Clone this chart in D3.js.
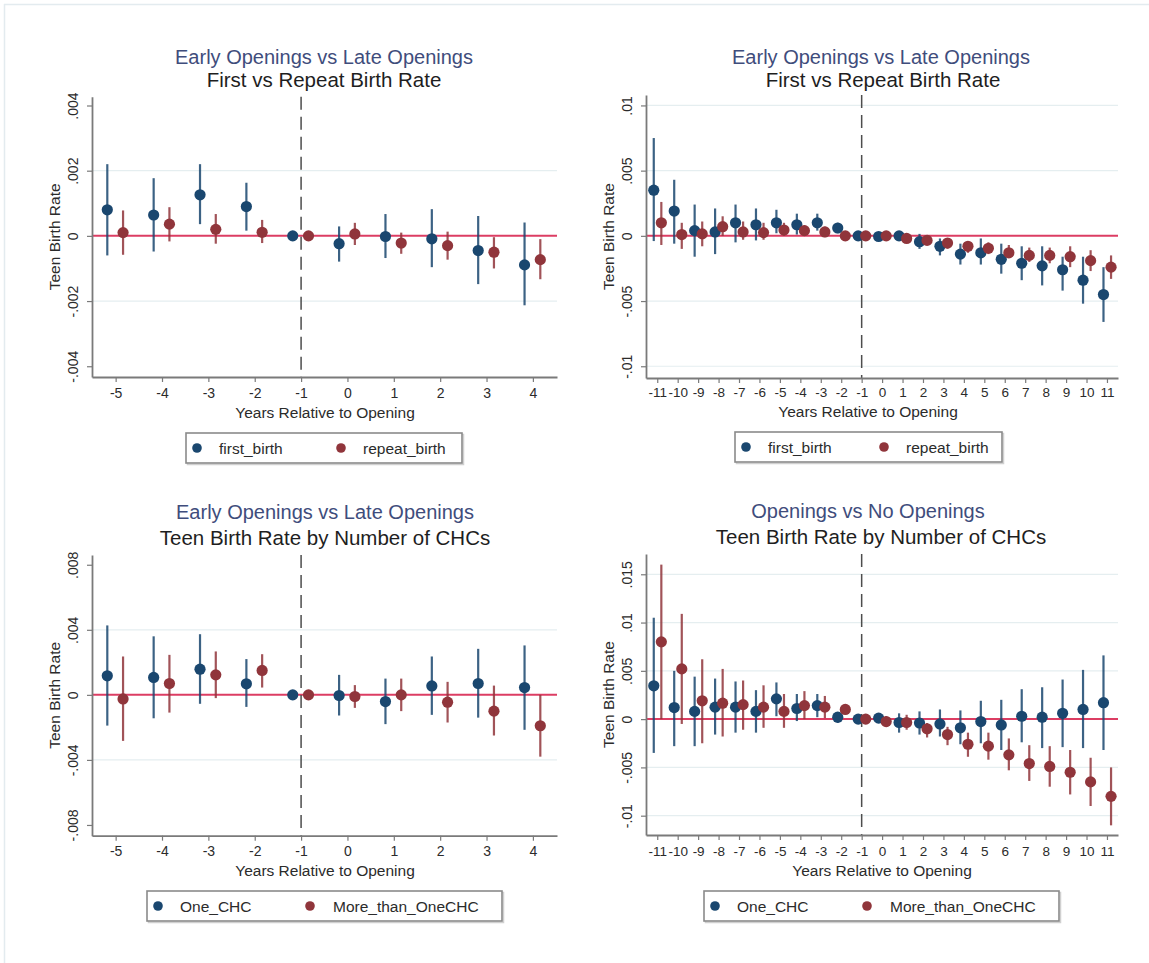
<!DOCTYPE html>
<html>
<head>
<meta charset="utf-8">
<script src="https://cdn.jsdelivr.net/npm/d3@7"></script>
<style>
  html, body { margin: 0; padding: 0; background: #fff; }
  svg { display: block; font-family: "Liberation Sans", Arial, Helvetica, sans-serif; }
</style>
</head>
<body>
<svg id="chart" width="1149" height="963"></svg>
<script>
// ---- Event-study estimates: point estimate with 95% CI bounds ----
const shortYears = [-5, -4, -3, -2, -1, 0, 1, 2, 3, 4];
const longYears = [-11, -10, -9, -8, -7, -6, -5, -4, -3, -2, -1, 0, 1, 2, 3, 4, 5, 6, 7, 8, 9, 10, 11];

// Panel A: early vs late openings, first vs repeat births
const firstBirthA = [0.0008, 0.00064, 0.00126, 0.0009, 0, -0.00024, -0.00002, -0.00009, -0.00045, -0.00089];
const firstBirthAHi = [0.0022, 0.00177, 0.0022, 0.00163, 0, 0.00029, 0.00067, 0.00082, 0.00061, 0.00041];
const firstBirthALo = [-0.0006, -0.00048, 0.00036, 0.00016, 0, -0.00079, -0.00068, -0.00096, -0.00148, -0.00213];
const repeatBirthA = [0.0001, 0.00036, 0.0002, 0.00011, 0, 0.00006, -0.00022, -0.0003, -0.0005, -0.00073];
const repeatBirthAHi = [0.00078, 0.00088, 0.00067, 0.00049, 0, 0.0004, 0.0001, 0.00013, -0.00004, -0.0001];
const repeatBirthALo = [-0.00058, -0.00017, -0.00024, -0.00022, 0, -0.00028, -0.00055, -0.00073, -0.001, -0.00133];

// Panel B: longer window, first vs repeat births
const firstBirthB = [0.0035, 0.0019, 0.0004, 0.0003, 0.001, 0.00085, 0.001, 0.00085, 0.001, 0.0006, 0, -0.00005, 0, -0.00045, -0.0008, -0.0014, -0.0013, -0.0018, -0.0021, -0.0023, -0.0026, -0.0034, -0.0045];
const firstBirthBHi = [0.0075, 0.0043, 0.0024, 0.0021, 0.0024, 0.0021, 0.002, 0.0017, 0.0017, 0.001, 0, 0.0001, 0.0002, 0.00015, -0.0002, -0.0006, -0.0002, -0.0006, -0.0008, -0.0008, -0.0016, -0.0016, -0.0024];
const firstBirthBLo = [-0.0004, -0.0006, -0.0016, -0.0014, -0.0005, -0.00035, 0.0002, 0.0001, 0.0004, 0.0002, 0, -0.0002, -0.0002, -0.001, -0.0015, -0.0022, -0.0022, -0.0029, -0.0034, -0.0038, -0.0042, -0.0052, -0.0066];
const repeatBirthB = [0.001, 0.0001, 0.00015, 0.0007, 0.0003, 0.00025, 0.00045, 0.0004, 0.0003, 0, 0, 0, -0.0002, -0.00035, -0.00055, -0.0008, -0.00095, -0.0013, -0.0015, -0.0015, -0.0016, -0.0019, -0.0024];
const repeatBirthBHi = [0.0026, 0.001, 0.0011, 0.0015, 0.0011, 0.001, 0.001, 0.0008, 0.0007, 0.0001, 0, 0.0001, 0, -0.0001, -0.0002, -0.0004, -0.0005, -0.0007, -0.0009, -0.0009, -0.0008, -0.0011, -0.0015];
const repeatBirthBLo = [-0.0007, -0.001, -0.0008, 0, -0.0003, -0.0003, 0, 0, -0.0001, -0.0001, 0, -0.0001, -0.0004, -0.0006, -0.001, -0.0013, -0.0014, -0.0017, -0.002, -0.0021, -0.0024, -0.0027, -0.0033];

// Panel C: early vs late openings, by number of CHCs
const oneChcC = [0.00117, 0.00107, 0.00158, 0.00068, 0, -0.00004, -0.00041, 0.00055, 0.0007, 0.00045];
const oneChcCHi = [0.00427, 0.0036, 0.00373, 0.0022, 0, 0.00123, 0.001, 0.00236, 0.00283, 0.00304];
const oneChcCLo = [-0.00189, -0.00144, -0.00055, -0.00074, 0, -0.00127, -0.0018, -0.00123, -0.0014, -0.00215];
const multiChcC = [-0.00025, 0.0007, 0.00123, 0.0015, 0, -0.0001, 0, -0.00045, -0.001, -0.0019];
const multiChcCHi = [0.00236, 0.00246, 0.00267, 0.0025, 0, 0.0006, 0.001, 0.0008, 0.00057, 0];
const multiChcCLo = [-0.00283, -0.00109, -0.0002, 0.00045, 0, -0.0008, -0.001, -0.0017, -0.0025, -0.0038];

// Panel D: openings vs no openings, by number of CHCs
const oneChcD = [0.00345, 0.0012, 0.0008, 0.00124, 0.00124, 0.0008, 0.0021, 0.0011, 0.0014, 0.0002, 0, 0.0001, -0.00035, -0.0004, -0.0005, -0.0009, -0.00025, -0.0006, 0.0003, 0.0002, 0.0006, 0.001, 0.0017];
const oneChcDHi = [0.0105, 0.005, 0.0044, 0.0042, 0.0039, 0.003, 0.0038, 0.0026, 0.0026, 0.0005, 0, 0.0006, 0.0006, 0.0008, 0.001, 0.0009, 0.0019, 0.002, 0.0031, 0.0033, 0.0041, 0.0051, 0.0066];
const oneChcDLo = [-0.0035, -0.0028, -0.0028, -0.0016, -0.0014, -0.0014, 0.0003, -0.0002, 0.0002, -0.0004, 0, -0.0004, -0.0014, -0.0016, -0.0018, -0.0026, -0.0025, -0.0032, -0.0024, -0.003, -0.0029, -0.003, -0.0032];
const multiChcD = [0.008, 0.0052, 0.0019, 0.00165, 0.0015, 0.00124, 0.0008, 0.0014, 0.00124, 0.001, 0, -0.00025, -0.00035, -0.001, -0.0016, -0.0026, -0.0028, -0.0037, -0.0046, -0.0049, -0.0055, -0.0065, -0.008];
const multiChcDHi = [0.016, 0.0109, 0.0062, 0.0052, 0.004, 0.0035, 0.0026, 0.0029, 0.0024, 0.0015, 0, 0.0003, 0.00045, -0.0004, -0.0008, -0.0014, -0.0014, -0.002, -0.0027, -0.0028, -0.0032, -0.004, -0.005];
const multiChcDLo = [0, -0.0005, -0.0025, -0.0018, -0.0011, -0.0009, -0.0009, 0, 0.0001, 0.0005, 0, -0.0008, -0.0011, -0.0019, -0.0027, -0.0039, -0.0042, -0.0053, -0.0064, -0.007, -0.0078, -0.009, -0.011];

// Y-axis ticks and their printed labels
const yTicksA = [-0.004, -0.002, 0, 0.002, 0.004];
const yLabelsA = ["-.004", "-.002", "0", ".002", ".004"];
const yTicksB = [-0.01, -0.005, 0, 0.005, 0.01];
const yLabelsB = ["-.01", "-.005", "0", ".005", ".01"];
const yTicksC = [-0.008, -0.004, 0, 0.004, 0.008];
const yLabelsC = ["-.008", "-.004", "0", ".004", ".008"];
const yTicksD = [-0.01, -0.005, 0, 0.005, 0.01, 0.015];
const yLabelsD = ["-.01", "-.005", "0", ".005", ".01", ".015"];

const titleTopA = "Early Openings vs Late Openings";
const titleTopD = "Openings vs No Openings";
const subtitleBirth = "First vs Repeat Birth Rate";
const subtitleChc = "Teen Birth Rate by Number of CHCs";
const xTitle = "Years Relative to Opening";
const yTitle = "Teen Birth Rate";
const seriesNamesBirth = ["first_birth", "repeat_birth"];
const seriesNamesChc = ["One_CHC", "More_than_OneCHC"];

// ---- styling ----
const NAVY = "#1a476f";
const MAROON = "#90353b";
const ZERO_LINE = "#dc3d63";
const TITLE_BLUE = "#3f4d7c";
const TEXT = "#2b2b2b";
const AXIS = "#7a7a7a";
const GRID = "#e5eef0";

const svg = d3.select("#chart");

// faint frame along the top and left edges
svg.append("line").attr("x1", 4).attr("x2", 1149).attr("y1", 4.5).attr("y2", 4.5)
  .attr("stroke", "#e3ebef").attr("stroke-width", 1.5);
svg.append("line").attr("x1", 4.5).attr("x2", 4.5).attr("y1", 4).attr("y2", 963)
  .attr("stroke", "#e3ebef").attr("stroke-width", 1.5);

function seriesRows(years, est, lo, hi) {
  return years.map((yr, i) => ({ yr, est: est[i], lo: lo[i], hi: hi[i] }));
}

const panels = [
  {
    years: shortYears, xDomain: [-5.51, 4.52], yDomain: [-0.00433, 0.00427],
    yTicks: yTicksA, yLabels: yLabelsA, gridTicks: [-0.002, 0.002],
    top: titleTopA, sub: subtitleBirth, names: seriesNamesBirth,
    series: [seriesRows(shortYears, firstBirthA, firstBirthALo, firstBirthAHi),
             seriesRows(shortYears, repeatBirthA, repeatBirthALo, repeatBirthAHi)],
    offs: [-0.18, 0.16], xTickSize: 14,
    box: { x0: 92, x1: 557, y0: 96.7, y1: 377 },
    t1: { cx: 324, y: 64 }, t2: { cx: 324, y: 87 },
    yLabX: 60, yTickX: 78, xTickY: 398, xTitleY: 418, xTitleCx: 325,
    leg: { x: 186, y: 433, w: 276, h: 30, d1: 11, l1: 33, d2: 155, l2: 177 }
  },
  {
    years: longYears, xDomain: [-11.55, 11.54], yDomain: [-0.0109, 0.0108],
    yTicks: yTicksB, yLabels: yLabelsB, gridTicks: [-0.01, -0.005, 0.005, 0.01],
    top: titleTopA, sub: subtitleBirth, names: seriesNamesBirth,
    series: [seriesRows(longYears, firstBirthB, firstBirthBLo, firstBirthBHi),
             seriesRows(longYears, repeatBirthB, repeatBirthBLo, repeatBirthBHi)],
    offs: [-0.17, 0.2], xTickSize: 13.5,
    box: { x0: 646, x1: 1118, y0: 95, y1: 378 },
    t1: { cx: 881, y: 64 }, t2: { cx: 883, y: 87 },
    yLabX: 614, yTickX: 632, xTickY: 397, xTitleY: 417, xTitleCx: 868,
    leg: { x: 735, y: 432, w: 267, h: 30, d1: 11, l1: 33, d2: 149, l2: 171 }
  },
  {
    years: shortYears, xDomain: [-5.51, 4.52], yDomain: [-0.00866, 0.0086],
    yTicks: yTicksC, yLabels: yLabelsC, gridTicks: [-0.004, 0.004],
    top: titleTopA, sub: subtitleChc, names: seriesNamesChc,
    series: [seriesRows(shortYears, oneChcC, oneChcCLo, oneChcCHi),
             seriesRows(shortYears, multiChcC, multiChcCLo, multiChcCHi)],
    offs: [-0.18, 0.16], xTickSize: 14,
    box: { x0: 92, x1: 557, y0: 555, y1: 835.7 },
    t1: { cx: 325, y: 519 }, t2: { cx: 325, y: 545 },
    yLabX: 60, yTickX: 78, xTickY: 856, xTitleY: 876, xTitleCx: 325,
    leg: { x: 147, y: 891, w: 355, h: 30, d1: 11, l1: 33, d2: 163, l2: 186 }
  },
  {
    years: longYears, xDomain: [-11.55, 11.54], yDomain: [-0.012, 0.0171],
    yTicks: yTicksD, yLabels: yLabelsD, gridTicks: [-0.01, -0.005, 0.005, 0.01, 0.015],
    top: titleTopD, sub: subtitleChc, names: seriesNamesChc,
    series: [seriesRows(longYears, oneChcD, oneChcDLo, oneChcDHi),
             seriesRows(longYears, multiChcD, multiChcDLo, multiChcDHi)],
    offs: [-0.17, 0.2], xTickSize: 13.5,
    box: { x0: 646, x1: 1118, y0: 554, y1: 835 },
    t1: { cx: 868, y: 518 }, t2: { cx: 881, y: 544 },
    yLabX: 614, yTickX: 632, xTickY: 856, xTitleY: 876, xTitleCx: 882,
    leg: { x: 704, y: 891, w: 355, h: 30, d1: 11, l1: 33, d2: 163, l2: 186 }
  }
];

const colors = [NAVY, MAROON];

panels.forEach(p => {
  const b = p.box;
  const x = d3.scaleLinear().domain(p.xDomain).range([b.x0, b.x1]);
  const y = d3.scaleLinear().domain(p.yDomain).range([b.y1, b.y0]);
  const g = svg.append("g");

  // titles
  g.append("text").attr("x", p.t1.cx).attr("y", p.t1.y).attr("text-anchor", "middle")
    .attr("font-size", 20).attr("fill", TITLE_BLUE).text(p.top);
  g.append("text").attr("x", p.t2.cx).attr("y", p.t2.y).attr("text-anchor", "middle")
    .attr("font-size", 20.5).attr("fill", "#1e1e1e").text(p.sub);

  // horizontal gridlines
  g.append("g").selectAll("line").data(p.gridTicks).join("line")
    .attr("x1", b.x0).attr("x2", b.x1)
    .attr("y1", d => y(d)).attr("y2", d => y(d))
    .attr("stroke", GRID).attr("stroke-width", 1.2);

  // zero reference line
  g.append("line").attr("x1", b.x0).attr("x2", b.x1)
    .attr("y1", y(0)).attr("y2", y(0))
    .attr("stroke", ZERO_LINE).attr("stroke-width", 2);

  // dashed line at the reference year
  g.append("line").attr("x1", x(-1)).attr("x2", x(-1))
    .attr("y1", b.y0).attr("y2", b.y1)
    .attr("stroke", "#4d4d4d").attr("stroke-width", 1.5)
    .attr("stroke-dasharray", "13,7");

  // y axis
  const yAxis = d3.axisLeft(y).tickValues(p.yTicks)
    .tickFormat((d, i) => p.yLabels[i]).tickSize(5).tickSizeOuter(0);
  const ya = g.append("g").attr("transform", `translate(${b.x0},0)`).call(yAxis);
  ya.select(".domain").attr("stroke", AXIS).attr("stroke-width", 1.8);
  ya.selectAll(".tick line").attr("stroke", AXIS).attr("stroke-width", 1.2);
  ya.selectAll(".tick text")
    .attr("transform", "rotate(-90)")
    .attr("x", 0).attr("y", p.yTickX - b.x0).attr("dy", 0)
    .attr("text-anchor", "middle")
    .attr("font-size", 14).attr("fill", TEXT)
    .attr("font-family", "Liberation Sans, Arial, sans-serif");

  // x axis (plain hyphen-minus for negative years)
  const xAxis = d3.axisBottom(x).tickValues(p.years)
    .tickFormat(d => String(d)).tickSize(5).tickSizeOuter(0);
  const xa = g.append("g").attr("transform", `translate(0,${b.y1})`).call(xAxis);
  xa.select(".domain").attr("stroke", AXIS).attr("stroke-width", 1.8);
  xa.selectAll(".tick line").attr("stroke", AXIS).attr("stroke-width", 1.2);
  xa.selectAll(".tick text")
    .attr("y", p.xTickY - b.y1).attr("dy", 0)
    .attr("font-size", p.xTickSize).attr("fill", TEXT)
    .attr("font-family", "Liberation Sans, Arial, sans-serif");

  // axis titles
  g.append("text").attr("x", p.xTitleCx).attr("y", p.xTitleY).attr("text-anchor", "middle")
    .attr("font-size", 15.5).attr("fill", TEXT).text(xTitle);
  g.append("text")
    .attr("transform", `translate(${p.yLabX},${(b.y0 + b.y1) / 2}) rotate(-90)`)
    .attr("text-anchor", "middle").attr("font-size", 15.5).attr("fill", TEXT).text(yTitle);

  // confidence intervals and point estimates
  p.series.forEach((rows, si) => {
    const off = p.offs[si];
    const col = colors[si];
    const sg = g.append("g");
    sg.selectAll("line").data(rows).join("line")
      .attr("x1", d => x(d.yr + off)).attr("x2", d => x(d.yr + off))
      .attr("y1", d => y(d.hi)).attr("y2", d => y(d.lo))
      .attr("stroke", col).attr("stroke-width", 2.2).attr("stroke-opacity", 0.85);
    sg.selectAll("circle").data(rows).join("circle")
      .attr("cx", d => x(d.yr + off)).attr("cy", d => y(d.est))
      .attr("r", 5.6).attr("fill", col);
  });

  // legend
  const L = p.leg;
  const lg = g.append("g");
  lg.append("rect").attr("x", L.x + 1.5).attr("y", L.y + 1.5).attr("width", L.w).attr("height", L.h)
    .attr("fill", "none").attr("stroke", "#d0d0d0").attr("stroke-width", 1.5);
  lg.append("rect").attr("x", L.x).attr("y", L.y).attr("width", L.w).attr("height", L.h)
    .attr("fill", "#fff").attr("stroke", "#8a8a8a").attr("stroke-width", 1.6);
  const cy = L.y + L.h / 2;
  [[L.d1, L.l1], [L.d2, L.l2]].forEach((pos, i) => {
    lg.append("circle").attr("cx", L.x + pos[0]).attr("cy", cy).attr("r", 4.8).attr("fill", colors[i]);
    lg.append("text").attr("x", L.x + pos[1]).attr("y", cy + 5.5)
      .attr("font-size", 15.5).attr("fill", TEXT).text(p.names[i]);
  });
});
</script>
</body>
</html>
